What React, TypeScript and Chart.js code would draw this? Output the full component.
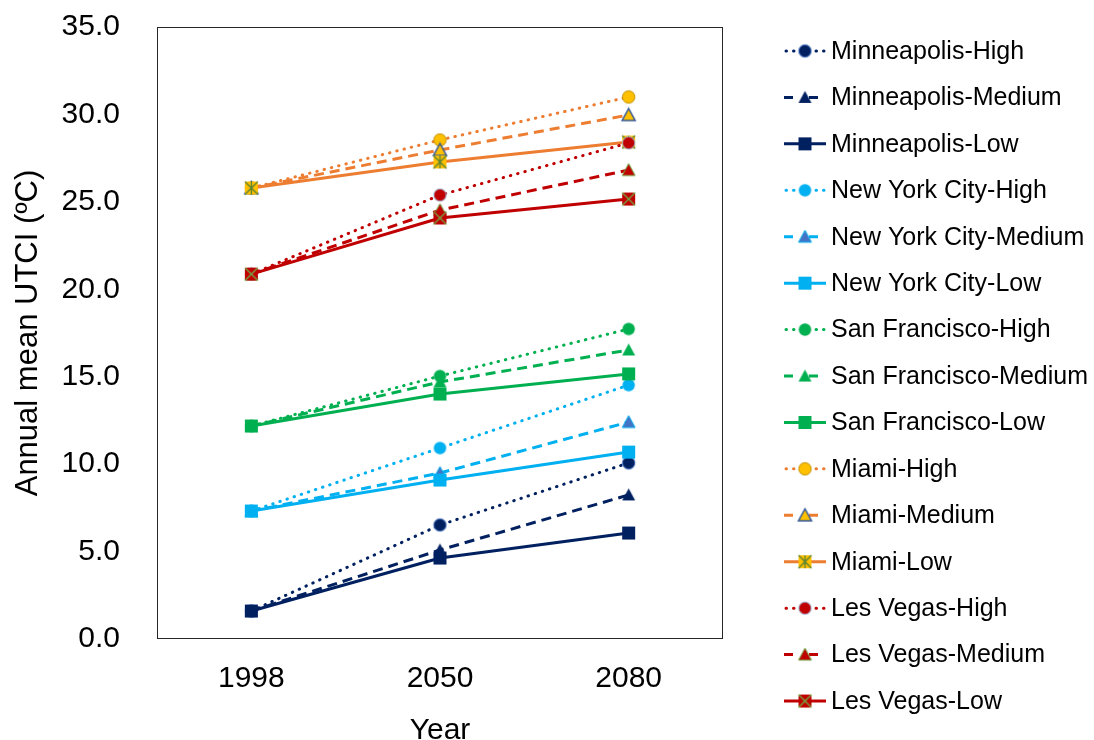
import React, { useEffect, useRef } from 'react';
import { Chart, registerables } from 'chart.js';

Chart.register(...registerables);

const FONT = "'Liberation Sans', Arial, Helvetica, sans-serif";

// ---- data ----
const years = ['1998', '2050', '2080'];
const yTickValues = [0, 5, 10, 15, 20, 25, 30, 35];

const minneapolisHigh = [1.6, 6.52, 10.07];
const minneapolisMedium = [1.6, 5.09, 8.24];
const minneapolisLow = [1.6, 4.63, 6.06];
const nycHigh = [7.32, 10.92, 14.52];
const nycMedium = [7.32, 9.49, 12.41];
const nycLow = [7.32, 9.09, 10.69];
const sfHigh = [12.18, 15.04, 17.73];
const sfMedium = [12.18, 14.7, 16.53];
const sfLow = [12.18, 14.01, 15.16];
const miamiHigh = [25.79, 28.54, 31.0];
const miamiMedium = [25.79, 27.97, 29.97];
const miamiLow = [25.79, 27.28, 28.42];
const lvHigh = [20.87, 25.39, 28.37];
const lvMedium = [20.87, 24.53, 26.82];
const lvLow = [20.87, 24.08, 25.16];

const seriesNames = [
  'Minneapolis-High', 'Minneapolis-Medium', 'Minneapolis-Low',
  'New York City-High', 'New York City-Medium', 'New York City-Low',
  'San Francisco-High', 'San Francisco-Medium', 'San Francisco-Low',
  'Miami-High', 'Miami-Medium', 'Miami-Low',
  'Les Vegas-High', 'Les Vegas-Medium', 'Les Vegas-Low',
];
const seriesValues = [
  minneapolisHigh, minneapolisMedium, minneapolisLow,
  nycHigh, nycMedium, nycLow,
  sfHigh, sfMedium, sfLow,
  miamiHigh, miamiMedium, miamiLow,
  lvHigh, lvMedium, lvLow,
];

// ---- styles ----
type Shape = 'circle' | 'triangle' | 'square';
type Glyph = 'none' | 'x' | 'star';
interface Style {
  line: string;
  dash: 'dot' | 'dash' | 'solid';
  shape: Shape;
  fill: string;
  stroke: string;
  strokeWidth: number;
  glyph: Glyph;
  glyphColor: string;
}

const NAVY = '#002060';
const CYAN = '#00B0F0';
const GREEN = '#00B050';
const ORANGE = '#ED7D31';
const GOLD = '#FFC000';
const RED = '#C00000';

const styles: Style[] = [
  { line: NAVY, dash: 'dot', shape: 'circle', fill: NAVY, stroke: '#4472C4', strokeWidth: 1, glyph: 'none', glyphColor: '' },
  { line: NAVY, dash: 'dash', shape: 'triangle', fill: NAVY, stroke: NAVY, strokeWidth: 0, glyph: 'none', glyphColor: '' },
  { line: NAVY, dash: 'solid', shape: 'square', fill: NAVY, stroke: NAVY, strokeWidth: 0, glyph: 'none', glyphColor: '' },
  { line: CYAN, dash: 'dot', shape: 'circle', fill: CYAN, stroke: CYAN, strokeWidth: 0, glyph: 'none', glyphColor: '' },
  { line: CYAN, dash: 'dash', shape: 'triangle', fill: '#4472C4', stroke: CYAN, strokeWidth: 1, glyph: 'none', glyphColor: '' },
  { line: CYAN, dash: 'solid', shape: 'square', fill: CYAN, stroke: CYAN, strokeWidth: 0, glyph: 'none', glyphColor: '' },
  { line: GREEN, dash: 'dot', shape: 'circle', fill: GREEN, stroke: GREEN, strokeWidth: 0, glyph: 'none', glyphColor: '' },
  { line: GREEN, dash: 'dash', shape: 'triangle', fill: GREEN, stroke: GREEN, strokeWidth: 0, glyph: 'none', glyphColor: '' },
  { line: GREEN, dash: 'solid', shape: 'square', fill: GREEN, stroke: GREEN, strokeWidth: 0, glyph: 'none', glyphColor: '' },
  { line: ORANGE, dash: 'dot', shape: 'circle', fill: GOLD, stroke: '#BF9000', strokeWidth: 1, glyph: 'none', glyphColor: '' },
  { line: ORANGE, dash: 'dash', shape: 'triangle', fill: GOLD, stroke: '#2F5597', strokeWidth: 1.5, glyph: 'none', glyphColor: '' },
  { line: ORANGE, dash: 'solid', shape: 'square', fill: GOLD, stroke: GOLD, strokeWidth: 0, glyph: 'star', glyphColor: '#548235' },
  { line: RED, dash: 'dot', shape: 'circle', fill: RED, stroke: '#9DC3E6', strokeWidth: 1, glyph: 'none', glyphColor: '' },
  { line: RED, dash: 'dash', shape: 'triangle', fill: RED, stroke: '#70AD47', strokeWidth: 1, glyph: 'none', glyphColor: '' },
  { line: RED, dash: 'solid', shape: 'square', fill: RED, stroke: RED, strokeWidth: 0, glyph: 'x', glyphColor: '#70AD47' },
];

const LINE_WIDTH = 3;
const dashPattern = (d: string): number[] => (d === 'dot' ? [0.5, 7] : d === 'dash' ? [10, 6] : []);

function makeMarker(s: Style): HTMLCanvasElement {
  const size = 17;
  const c = document.createElement('canvas');
  c.width = size;
  c.height = size;
  const ctx = c.getContext('2d') as CanvasRenderingContext2D;
  const m = size / 2;
  const h = 6.5;
  ctx.fillStyle = s.fill;
  ctx.strokeStyle = s.stroke;
  ctx.lineWidth = s.strokeWidth;
  ctx.beginPath();
  if (s.shape === 'circle') {
    ctx.arc(m, m, h - 0.3, 0, Math.PI * 2);
  } else if (s.shape === 'triangle') {
    ctx.moveTo(m, m - h);
    ctx.lineTo(m + h, m + h - 1);
    ctx.lineTo(m - h, m + h - 1);
    ctx.closePath();
  } else {
    ctx.rect(m - h, m - h, 2 * h, 2 * h);
  }
  ctx.fill();
  if (s.strokeWidth > 0) ctx.stroke();
  if (s.glyph !== 'none') {
    ctx.strokeStyle = s.glyphColor;
    ctx.lineWidth = 1.3;
    ctx.beginPath();
    ctx.moveTo(m - h, m - h);
    ctx.lineTo(m + h, m + h);
    ctx.moveTo(m + h, m - h);
    ctx.lineTo(m - h, m + h);
    if (s.glyph === 'star') {
      ctx.moveTo(m, m - h);
      ctx.lineTo(m, m + h);
    }
    ctx.stroke();
  }
  return c;
}

export default function App() {
  const canvasRef = useRef<HTMLCanvasElement | null>(null);

  useEffect(() => {
    const canvas = canvasRef.current;
    if (!canvas) return;
    const markers = styles.map(makeMarker);
    const n = seriesNames.length;

    const datasets = seriesNames.map((name, i) => ({
      label: name,
      data: seriesValues[i],
      borderColor: styles[i].line,
      backgroundColor: styles[i].fill,
      borderWidth: LINE_WIDTH,
      borderDash: dashPattern(styles[i].dash),
      borderCapStyle: styles[i].dash === 'dot' ? 'round' : 'butt',
      pointStyle: markers[i],
      pointRadius: 6,
      tension: 0,
      fill: false,
      order: n - i,
    }));

    const frame = {
      id: 'plotFrame',
      beforeDatasetsDraw(chart: any) {
        const { ctx, chartArea } = chart;
        ctx.save();
        ctx.strokeStyle = '#262626';
        ctx.lineWidth = 1;
        ctx.strokeRect(
          Math.round(chartArea.left) + 0.5,
          Math.round(chartArea.top) + 0.5,
          Math.round(chartArea.right - chartArea.left) - 1,
          Math.round(chartArea.bottom - chartArea.top) - 1,
        );
        ctx.restore();
      },
    };

    const legend = {
      id: 'lineLegend',
      afterDraw(chart: any) {
        const { ctx } = chart;
        const x0 = 784;
        const x1 = 826;
        const xm = 805;
        const tx = 831;
        const y0 = 51;
        const step = 46.43;
        ctx.save();
        chart.data.datasets.forEach((ds: any, i: number) => {
          const y = y0 + i * step;
          const st = styles[i];
          ctx.strokeStyle = st.line;
          ctx.lineWidth = LINE_WIDTH;
          ctx.lineCap = st.dash === 'dot' ? 'round' : 'butt';
          ctx.setLineDash(st.dash === 'dot' ? [0.5, 7] : st.dash === 'dash' ? [9, 16] : []);
          ctx.beginPath();
          ctx.moveTo(x0 + (st.dash === 'dot' ? 2 : 0), y);
          ctx.lineTo(x1, y);
          ctx.stroke();
          ctx.setLineDash([]);
          const mk = markers[i];
          ctx.drawImage(mk, xm - mk.width / 2, y - mk.height / 2);
          ctx.fillStyle = '#000000';
          ctx.font = `25px ${FONT}`;
          ctx.textAlign = 'left';
          ctx.textBaseline = 'middle';
          ctx.fillText(ds.label, tx, y + 1);
        });
        ctx.restore();
      },
    };

    const chart = new Chart(canvas, {
      type: 'line',
      data: { labels: years, datasets: datasets as any },
      options: {
        responsive: false,
        animation: false,
        layout: { padding: { left: 0, top: 27, right: 371, bottom: 0 } },
        plugins: {
          legend: { display: false },
          tooltip: { enabled: false },
        },
        scales: {
          x: {
            type: 'category',
            offset: true,
            grid: { display: false, drawTicks: false },
            border: { display: false },
            ticks: { font: { family: FONT, size: 30 }, color: '#000', padding: 22, maxRotation: 0 },
            title: {
              display: true,
              text: 'Year',
              font: { family: FONT, size: 30 },
              color: '#000',
              padding: { top: 0, bottom: -9 },
            },
            afterFit: (s: any) => {
              s.height = 101;
              s.paddingLeft = 0;
              s.paddingRight = 0;
            },
          },
          y: {
            type: 'linear',
            min: 0,
            max: 35,
            grid: { display: false, drawTicks: false },
            border: { display: false },
            afterBuildTicks: (s: any) => {
              s.ticks = yTickValues.map((v) => ({ value: v }));
            },
            ticks: {
              font: { family: FONT, size: 30 },
              color: '#000',
              padding: 37,
              callback: (v: any) => Number(v).toFixed(1),
            },
            title: {
              display: true,
              text: 'Annual mean UTCI (ºC)',
              font: { family: FONT, size: 31 },
              color: '#000',
              padding: { top: 10, bottom: 0 },
            },
            afterFit: (s: any) => {
              s.width = 157;
              s.paddingTop = 0;
              s.paddingBottom = 0;
            },
          },
        },
      },
      plugins: [frame, legend],
    });

    return () => chart.destroy();
  }, []);

  return (
    <div style={{ position: 'fixed', left: 0, top: 0, width: 1094, height: 740, background: '#fff' }}>
      <canvas ref={canvasRef} width={1094} height={740} style={{ display: 'block' }} />
    </div>
  );
}
